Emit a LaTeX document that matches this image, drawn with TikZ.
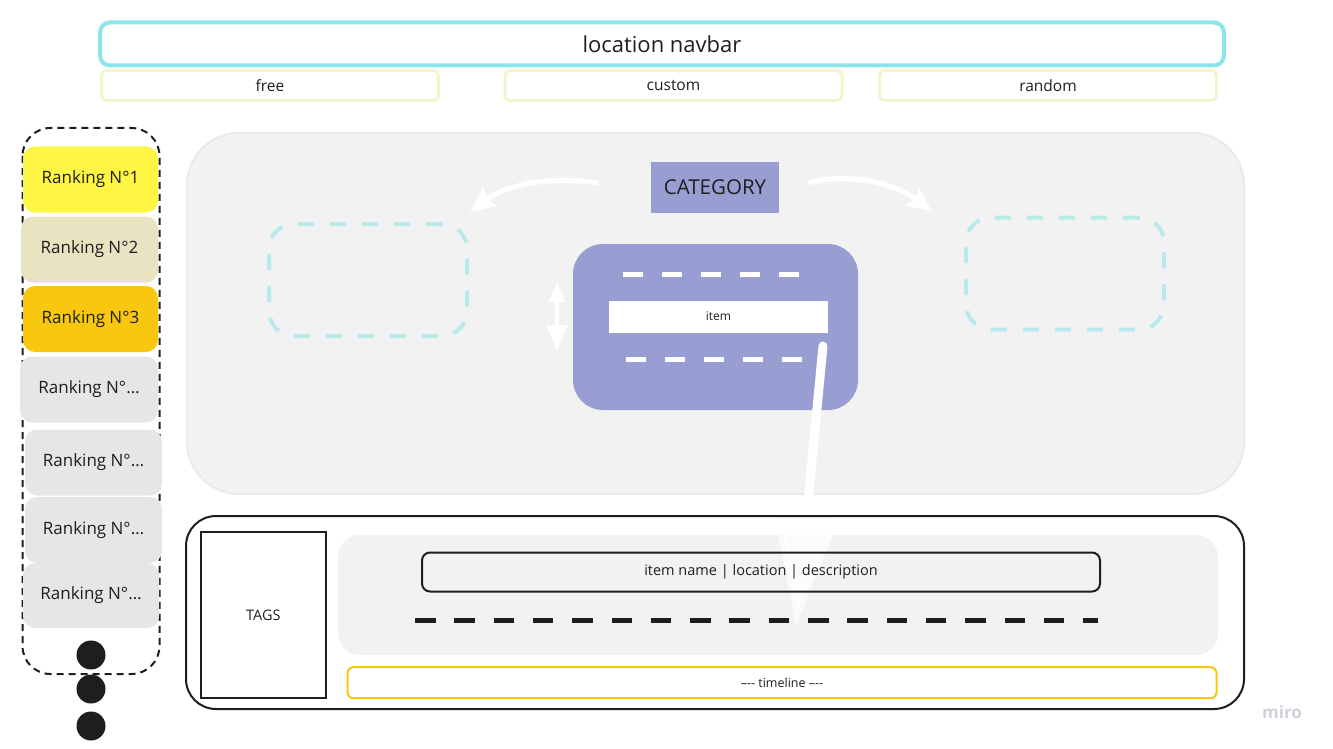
\documentclass[tikz,border=0pt]{standalone}
\usepackage{fontspec}
\setmainfont{Open Sans}
\usetikzlibrary{arrows.meta}

\definecolor{navcyan}{RGB}{140,230,232}
\definecolor{tabgreen}{RGB}{241,246,205}
\definecolor{rankyellow}{RGB}{255,245,68}
\definecolor{rankbeige}{RGB}{232,228,194}
\definecolor{rankgold}{RGB}{250,199,16}
\definecolor{rankgrey}{RGB}{230,230,230}
\definecolor{panelgrey}{RGB}{242,242,242}
\definecolor{paneledge}{RGB}{234,234,234}
\definecolor{catpurple}{RGB}{152,158,210}
\definecolor{slotcyan}{RGB}{184,233,236}
\definecolor{inkdark}{RGB}{30,30,30}
\definecolor{mirogrey}{RGB}{208,210,218}

\begin{document}
\begin{tikzpicture}[x=1pt,y=1pt,yscale=-1,
    every node/.style={text=inkdark, inner sep=0pt},
    navbar/.style={draw=navcyan, line width=4pt, rounded corners=10pt, minimum width=1124pt, minimum height=43pt, font=\fontsize{22}{26}\selectfont},
    tabbox/.style={draw=tabgreen, line width=3pt, rounded corners=5pt, minimum width=337pt, minimum height=30pt, font=\fontsize{15.5}{18}\selectfont},
    rankbox/.style={rounded corners=12pt, minimum height=66pt, font=\fontsize{17}{20}\selectfont},
    dotnode/.style={circle, fill=inkdark, minimum size=29pt},
    bigpanel/.style={fill=panelgrey, draw=paneledge, line width=2pt, rounded corners=52pt},
    catbox/.style={fill=catpurple, minimum width=128pt, minimum height=51pt, font=\fontsize{20.5}{24}\selectfont},
    slotbox/.style={draw=slotcyan, line width=4pt, dash pattern=on 16pt off 16pt, rounded corners=25pt, minimum width=198pt, minimum height=112pt},
    cardbox/.style={fill=catpurple, rounded corners=30pt, minimum width=285pt, minimum height=166pt},
    carddash/.style={white, line width=5pt, dash pattern=on 20pt off 19pt},
    itembox/.style={fill=white, minimum width=219pt, minimum height=32pt, font=\fontsize{12}{14}\selectfont},
    swoosh/.style={white, line width=5pt, -{Stealth[length=25pt,width=22pt,inset=4pt]}},
    droparrow/.style={white, line width=9pt, line cap=round, -{Triangle[length=112pt,width=64pt]}},
    frame/.style={draw=inkdark, line width=2pt},
    tagdash/.style={inkdark, line width=5.5pt, dash pattern=on 20.5pt off 18.8pt}
  ]
  \useasboundingbox (0,0) rectangle (1333,749);

  % navbar and tabs
  \node[navbar] (navbar) at (662,44) {location navbar};
  \node[tabbox] (free) at (270,85.5) {free};
  \node[tabbox] (custom) at (673.5,85.5) {custom};
  \node[tabbox] (random) at (1048,85.5) {random};

  % ranking column
  \draw[inkdark, line width=2pt, dash pattern=on 7pt off 5pt, rounded corners=28pt] (22.5,128) rectangle (159.5,674);
  \node[rankbox, fill=rankyellow, minimum width=135pt] (rank1) at (90.5,179.5) {Ranking N°1};
  \node[rankbox, fill=rankbeige, minimum width=137pt] (rank2) at (89.5,249.5) {Ranking N°2};
  \node[rankbox, fill=rankgold, minimum width=135pt] (rank3) at (90.5,319) {Ranking N°3};
  \node[rankbox, fill=rankgrey, minimum width=138pt] (rank4) at (89,389.5) {Ranking N°…};
  \node[rankbox, fill=rankgrey, minimum width=137pt] (rank5) at (93.5,462.5) {Ranking N°…};
  \node[rankbox, fill=rankgrey, minimum width=137pt] (rank6) at (93.5,530) {Ranking N°…};
  \node[rankbox, fill=rankgrey, minimum width=136pt, minimum height=65pt] (rank7) at (91,595.5) {Ranking N°…};
  \node[dotnode] (dot1) at (91,655) {};
  \node[dotnode] (dot2) at (91,689) {};
  \node[dotnode] (dot3) at (91,726) {};

  % category panel
  \node[bigpanel, minimum width=1057pt, minimum height=361pt] (catpanel) at (715.5,313.5) {};
  \node[catbox] (category) at (715,187.5) {CATEGORY};
  \node[slotbox] (leftslot) at (368,280) {};
  \node[slotbox] (rightslot) at (1065,273.5) {};
  \node[cardbox] (card) at (715.5,327) {};
  \draw[carddash] (623,274.7) -- (799,274.7);
  \draw[carddash] (626,359.3) -- (802,359.3);
  \node[itembox] (item) at (718.5,316.5) {item};

  \coordinate (catleftend) at (598,183);
  \coordinate (leftslottip) at (470,212);
  \coordinate (catrightend) at (808,183);
  \coordinate (rightslottip) at (932,212);
  \draw[swoosh] (catleftend) .. controls (555,177) and (510,182) .. (leftslottip);
  \draw[swoosh] (catrightend) .. controls (850,172) and (895,183) .. (rightslottip);

  \coordinate (swaptop) at (557,282);
  \coordinate (swapbottom) at (557,352);
  \draw[white, line width=4.5pt, {Triangle[length=20pt,width=16pt]}-{Triangle[length=27pt,width=20pt]}] (swaptop) -- (swapbottom);

  % detail panel
  \node[fill=panelgrey, rounded corners=22pt, minimum width=880pt, minimum height=120pt] (detailgrey) at (778,595) {};

  \coordinate (dropstart) at (823,346);
  \coordinate (droptip) at (796,626);
  \begin{scope}
    \clip (0,0) rectangle (1333,528);
    \draw[droparrow] (dropstart) -- (droptip);
  \end{scope}
  \begin{scope}
    \clip (0,528) rectangle (1333,749);
    \draw[droparrow, opacity=0.7] (dropstart) -- (droptip);
  \end{scope}

  \node[frame, rounded corners=30pt, minimum width=1058pt, minimum height=193pt] (detail) at (715,612.5) {};
  \node[frame, line width=2.5pt, minimum width=125pt, minimum height=166pt, font=\fontsize{14.5}{17}\selectfont] (tags) at (263.3,615) {TAGS};
  \node[frame, rounded corners=8pt, minimum width=678pt, minimum height=39pt, font=\fontsize{14.5}{17}\selectfont] (itemname) at (761,572) {item name | location | description};
  \draw[tagdash] (415,620.7) -- (1098,620.7);
  \node[draw=rankgold, line width=2pt, rounded corners=6pt, minimum width=869pt, minimum height=31pt, font=\fontsize{12.5}{15}\selectfont] (timeline) at (782,682.7) {--{}-{}- timeline --{}-{}-};

  \node[font=\fontsize{17}{20}\selectfont\bfseries, text=mirogrey] (miro) at (1282,712) {miro};
\end{tikzpicture}
\end{document}
